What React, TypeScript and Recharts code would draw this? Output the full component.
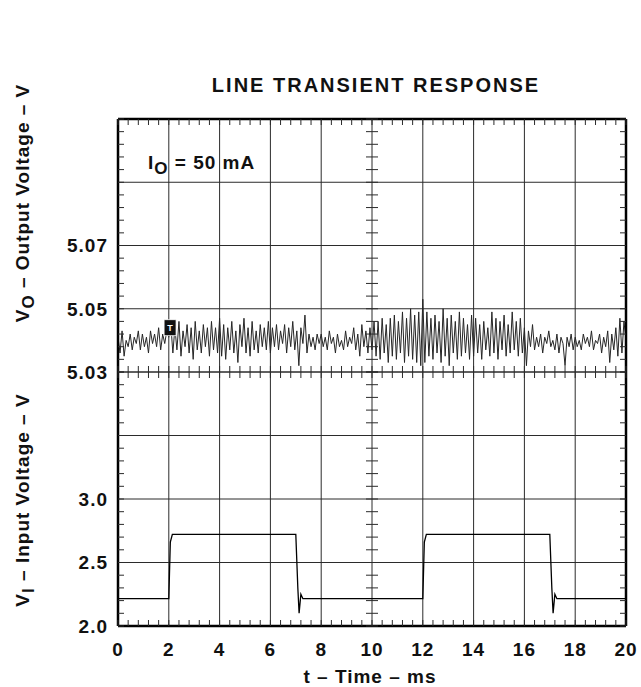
import {
  Line,
  LineChart,
  ReferenceDot,
  ReferenceLine,
  XAxis,
  YAxis
} from "recharts"

const FONT = "'Liberation Sans', Arial, Helvetica, sans-serif"

// time axis (ms)
const timeTicks = [0, 2, 4, 6, 8, 10, 12, 14, 16, 18, 20]
const sampleStepMs = 0.08

// output voltage, one scope sample every 0.08 ms from 0 to 20 ms
const outputVoltage = [
  5.041, 5.036, 5.043, 5.035, 5.04, 5.038, 5.042, 5.037, 5.041, 5.039, 5.043, 5.037, 5.042,
  5.038, 5.041, 5.036, 5.043, 5.039, 5.042, 5.038, 5.044, 5.037, 5.042, 5.039, 5.043,
  5.041, 5.045, 5.036, 5.044, 5.037, 5.046, 5.035, 5.043, 5.038, 5.045, 5.036, 5.044, 5.034,
  5.046, 5.037, 5.043, 5.036, 5.045, 5.038, 5.044, 5.035, 5.046, 5.037, 5.044, 5.036,
  5.047, 5.035, 5.045, 5.034, 5.044, 5.037, 5.046, 5.036, 5.043, 5.033, 5.045, 5.038, 5.047,
  5.036, 5.044, 5.035, 5.046, 5.037, 5.043, 5.036, 5.045, 5.038, 5.044, 5.037, 5.046,
  5.036, 5.044, 5.038, 5.045, 5.037, 5.043, 5.039, 5.045, 5.036, 5.044, 5.038, 5.046, 5.037,
  5.043, 5.032, 5.044, 5.039, 5.048, 5.036, 5.042, 5.038, 5.041, 5.037, 5.042, 5.039,
  5.042, 5.038, 5.041, 5.037, 5.043, 5.039, 5.041, 5.036, 5.042, 5.038, 5.04, 5.037, 5.043,
  5.038, 5.041, 5.039, 5.044, 5.037, 5.042, 5.035, 5.045, 5.038, 5.043, 5.036, 5.044,
  5.037, 5.046, 5.035, 5.046, 5.034, 5.047, 5.036, 5.045, 5.033, 5.047, 5.035, 5.048, 5.034,
  5.046, 5.036, 5.049, 5.033, 5.047, 5.035, 5.05, 5.034, 5.048, 5.033, 5.049, 5.032,
  5.053, 5.033, 5.049, 5.035, 5.047, 5.034, 5.048, 5.036, 5.046, 5.033, 5.05, 5.035, 5.047,
  5.032, 5.048, 5.036, 5.046, 5.034, 5.049, 5.035, 5.047, 5.036, 5.045, 5.034, 5.048,
  5.035, 5.047, 5.036, 5.045, 5.034, 5.046, 5.037, 5.044, 5.035, 5.049, 5.036, 5.047, 5.034,
  5.046, 5.037, 5.048, 5.035, 5.045, 5.036, 5.049, 5.037, 5.046, 5.035, 5.047, 5.036,
  5.044, 5.032, 5.043, 5.038, 5.045, 5.037, 5.041, 5.038, 5.042, 5.036, 5.041, 5.039, 5.043,
  5.038, 5.04, 5.037, 5.042, 5.036, 5.041, 5.039, 5.032, 5.041, 5.038, 5.042, 5.037,
  5.041, 5.038, 5.04, 5.037, 5.042, 5.039, 5.041, 5.038, 5.043, 5.037, 5.04, 5.039, 5.042,
  5.036, 5.041, 5.038, 5.043, 5.033, 5.042, 5.037, 5.044, 5.035, 5.047, 5.036, 5.046,
  5.04
]

// input voltage pulse (ms, V)
const inputTimes = [0, 2.0, 2.06, 2.14, 7.0, 7.08, 7.13, 7.2, 7.28, 12.0, 12.06, 12.14, 17.0, 17.08, 17.13, 17.2, 17.28, 20]
const inputVoltage = [2.215, 2.215, 2.66, 2.722, 2.722, 2.3, 2.1, 2.25, 2.215, 2.215, 2.66, 2.722, 2.722, 2.3, 2.1, 2.25, 2.215, 2.215]

const voGridTicks = [5.03, 5.05, 5.07, 5.09, 5.11]
const voLabelTicks = [5.03, 5.05, 5.07]
const viGridTicks = [2.0, 2.5, 3.0, 3.5, 4.0]
const viLabelTicks = [2.0, 2.5, 3.0]

const triggerTime = 2.05
const triggerLevel = 5.044

const voData = outputVoltage.map((v, i) => ({ t: i * sampleStepMs, v }))
const viData = inputTimes.map((t, i) => ({ t, v: inputVoltage[i] }))

// graticule marks, 5 per division
const minorX = Array.from({ length: 51 }, (_, i) => i * 0.4)
const minorVo = Array.from({ length: 21 }, (_, i) => 5.03 + i * 0.004)
const minorVi = Array.from({ length: 21 }, (_, i) => 2 + i * 0.1)

const W = 641
const H = 687
const LEFT = 118
const RIGHT = 626
const TOP = 119
const MID = 372
const BOTTOM = 626
const PAD = 14
const CENTER_X = (LEFT + RIGHT) / 2
const TICK = 6
const INK = "#111"
const GRID = "#2b2b2b"
const BOTTOM_H = H - (MID - PAD)
const LOWER_PLOT_BOTTOM = PAD + (BOTTOM - MID)

const labelStyle = {
  fill: INK,
  fontSize: 19,
  fontWeight: 700,
  fontFamily: FONT,
  letterSpacing: 1
}

const near = (list: number[], v: number) => list.find((l) => Math.abs(l - v) < 1e-6)

const yGraticule = (y: number) => (
  <g stroke={GRID} strokeWidth={1}>
    <line x1={LEFT} x2={LEFT + TICK} y1={y} y2={y} />
    <line x1={CENTER_X - TICK} x2={CENTER_X + TICK} y1={y} y2={y} />
    <line x1={RIGHT - TICK} x2={RIGHT} y1={y} y2={y} />
  </g>
)

const makeYTick = (labels: number[], digits: number) => (props: any) => {
  const { y, payload } = props
  const label = near(labels, payload.value)
  return (
    <g>
      {yGraticule(y)}
      {label !== undefined && (
        <text x={LEFT - 10} y={y} dy="0.36em" textAnchor="end" {...labelStyle}>
          {label.toFixed(digits)}
        </text>
      )}
    </g>
  )
}

const voTick = makeYTick(voLabelTicks, 2)
const viTick = makeYTick(viLabelTicks, 1)

const upperXTick = (props: any) => {
  const { x } = props
  return <line x1={x} x2={x} y1={TOP} y2={TOP + TICK} stroke={GRID} strokeWidth={1} />
}

const lowerXTick = (props: any) => {
  const { x, payload } = props
  const label = near(timeTicks, payload.value)
  return (
    <g>
      <g stroke={GRID} strokeWidth={1}>
        <line x1={x} x2={x} y1={PAD - TICK} y2={PAD + TICK} />
        <line x1={x} x2={x} y1={LOWER_PLOT_BOTTOM - TICK} y2={LOWER_PLOT_BOTTOM} />
      </g>
      {label !== undefined && (
        <text x={x} y={LOWER_PLOT_BOTTOM + 16} dy="0.72em" textAnchor="middle" {...labelStyle}>
          {String(label)}
        </text>
      )}
    </g>
  )
}

const TriggerMark = (props: any) => {
  const { cx, cy } = props
  return (
    <g>
      <rect x={cx - 6} y={cy - 8} width={12} height={16} fill="#111" stroke="#fff" strokeWidth={0.8} />
      <text x={cx} y={cy + 3} textAnchor="middle" fill="#fff" fontSize={9} fontWeight={700} fontFamily={FONT}>
        T
      </text>
    </g>
  )
}

const App = () => {
  const frame = { stroke: "#000", strokeWidth: 2.5 }
  const grid = { stroke: GRID, strokeWidth: 1 }
  return (
    <div style={{ position: "absolute", left: 0, top: 0, width: W, height: H, background: "#fff" }}>
      {/* output voltage half */}
      <div style={{ position: "absolute", left: 0, top: 0 }}>
        <LineChart
          width={W}
          height={MID + PAD}
          margin={{ top: 0, right: W - RIGHT, bottom: PAD, left: 0 }}
        >
          <XAxis
            type="number"
            dataKey="t"
            domain={[0, 20]}
            ticks={minorX}
            allowDataOverflow
            interval={0}
            orientation="top"
            height={TOP}
            tick={upperXTick}
            tickLine={false}
            axisLine={false}
          />
          <YAxis
            type="number"
            domain={[5.03, 5.11]}
            ticks={minorVo}
            allowDataOverflow
            interval={0}
            width={LEFT}
            tickSize={0}
            tickLine={false}
            axisLine={false}
            tick={voTick}
          />
          {voGridTicks.map((v) => (
            <ReferenceLine key={`h${v}`} y={v} {...grid} />
          ))}
          {timeTicks.map((t) => (
            <ReferenceLine key={`v${t}`} x={t} {...grid} />
          ))}
          <Line
            data={voData}
            dataKey="v"
            type="linear"
            stroke="#262626"
            strokeWidth={1}
            dot={false}
            isAnimationActive={false}
          />
          <ReferenceLine y={5.11} {...frame} />
          <ReferenceLine x={0} {...frame} />
          <ReferenceLine x={20} {...frame} />
          <ReferenceDot x={triggerTime} y={triggerLevel} shape={TriggerMark} />
        </LineChart>
      </div>

      {/* input voltage half */}
      <div style={{ position: "absolute", left: 0, top: MID - PAD }}>
        <LineChart
          width={W}
          height={BOTTOM_H}
          margin={{ top: PAD, right: W - RIGHT, bottom: 0, left: 0 }}
        >
          <XAxis
            type="number"
            dataKey="t"
            domain={[0, 20]}
            ticks={minorX}
            allowDataOverflow
            interval={0}
            height={BOTTOM_H - LOWER_PLOT_BOTTOM}
            tickSize={0}
            tickLine={false}
            axisLine={false}
            tick={lowerXTick}
          />
          <YAxis
            type="number"
            domain={[2, 4]}
            ticks={minorVi}
            allowDataOverflow
            interval={0}
            width={LEFT}
            tickSize={0}
            tickLine={false}
            axisLine={false}
            tick={viTick}
          />
          {viGridTicks.map((v) => (
            <ReferenceLine key={`h${v}`} y={v} {...grid} />
          ))}
          {timeTicks.map((t) => (
            <ReferenceLine key={`v${t}`} x={t} {...grid} />
          ))}
          <Line
            data={viData}
            dataKey="v"
            type="linear"
            stroke="#000"
            strokeWidth={1.3}
            dot={false}
            isAnimationActive={false}
          />
          <ReferenceLine y={2} {...frame} />
          <ReferenceLine x={0} {...frame} />
          <ReferenceLine x={20} {...frame} />
        </LineChart>
      </div>

      {/* titles and axis captions */}
      <svg
        width={W}
        height={H}
        style={{ position: "absolute", left: 0, top: 0, pointerEvents: "none" }}
        fontFamily={FONT}
        fontWeight={700}
        fill={INK}
      >
        <text x={376} y={91.5} textAnchor="middle" fontSize={20} letterSpacing={2}>
          LINE TRANSIENT RESPONSE
        </text>
        <text x={148} y={169} fontSize={19} letterSpacing={1}>
          I<tspan fontSize={17} dy={5}>O</tspan>
          <tspan dy={-5}> = 50 mA</tspan>
        </text>
        <text
          x={29}
          y={203}
          textAnchor="middle"
          fontSize={19}
          letterSpacing={1}
          transform="rotate(-90, 29, 203)"
        >
          V<tspan fontSize={17} dy={5}>O</tspan>
          <tspan dy={-5}> – Output Voltage – V</tspan>
        </text>
        <text
          x={29}
          y={500}
          textAnchor="middle"
          fontSize={19}
          letterSpacing={1}
          transform="rotate(-90, 29, 500)"
        >
          V<tspan fontSize={17} dy={5}>I</tspan>
          <tspan dy={-5}> – Input Voltage – V</tspan>
        </text>
        <text x={370} y={683} textAnchor="middle" fontSize={19} letterSpacing={1}>
          t – Time – ms
        </text>
      </svg>
    </div>
  )
}

export default App
